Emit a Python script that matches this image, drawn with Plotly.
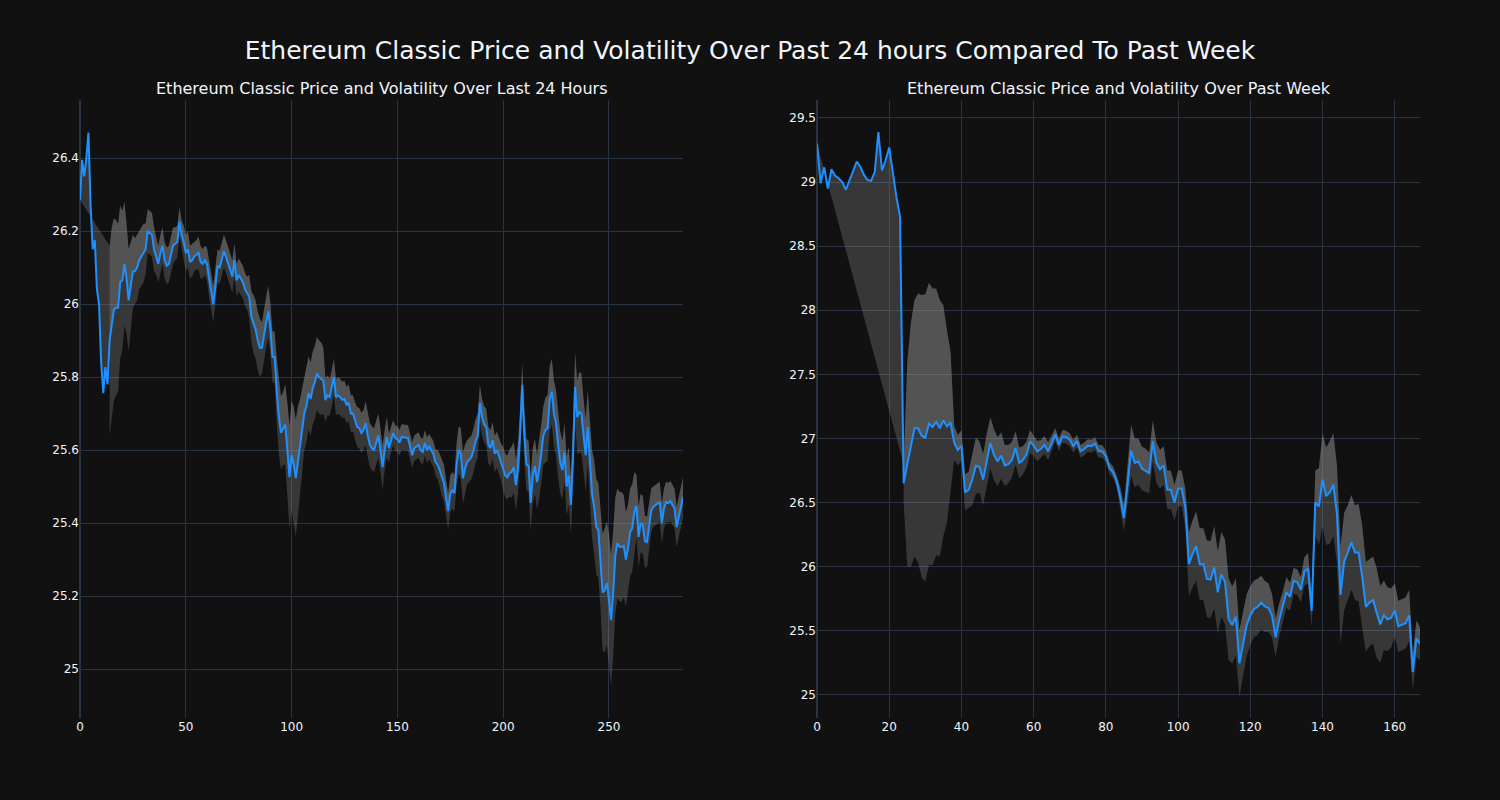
import plotly.graph_objects as go
from plotly.subplots import make_subplots

# ---- Last 24 hours (5-minute steps) ----
day_x = list(range(286))
day_price = [
    26.285, 26.395, 26.35, 26.40, 26.47, 26.27, 26.15, 26.175, 26.04, 26.00,
    25.84, 25.756, 25.827, 25.78, 25.90, 25.95, 25.985, 25.99, 25.99, 26.06,
    26.065, 26.11, 26.07, 26.01, 26.05, 26.09, 26.09, 26.10, 26.12, 26.13,
    26.14, 26.15, 26.20, 26.195, 26.19, 26.15, 26.13, 26.11, 26.14, 26.16,
    26.12, 26.105, 26.11, 26.14, 26.16, 26.165, 26.17, 26.225, 26.19, 26.17,
    26.14, 26.15, 26.115, 26.12, 26.13, 26.135, 26.14, 26.115, 26.11, 26.12,
    26.11, 26.07, 26.03, 26.00, 26.05, 26.105, 26.10, 26.12, 26.145, 26.13,
    26.11, 26.09, 26.075, 26.12, 26.065, 26.08, 26.07, 26.06, 26.04, 26.03,
    26.02, 25.965, 25.945, 25.93, 25.90, 25.88, 25.88, 25.92, 25.95, 25.98,
    25.93, 25.855, 25.855, 25.76, 25.69, 25.647, 25.66, 25.67, 25.60, 25.526,
    25.586, 25.56, 25.523, 25.57, 25.61, 25.66, 25.70, 25.72, 25.756, 25.74,
    25.77, 25.786, 25.81, 25.80, 25.795, 25.79, 25.737, 25.75, 25.745, 25.77,
    25.80, 25.745, 25.75, 25.745, 25.737, 25.74, 25.723, 25.73, 25.70, 25.70,
    25.68, 25.663, 25.66, 25.647, 25.655, 25.674, 25.64, 25.614, 25.605, 25.60,
    25.62, 25.64, 25.60, 25.553, 25.60, 25.636, 25.605, 25.63, 25.647, 25.633,
    25.63, 25.62, 25.636, 25.635, 25.633, 25.633, 25.61, 25.586, 25.605, 25.61,
    25.614, 25.60, 25.595, 25.62, 25.60, 25.61, 25.60, 25.59, 25.567, 25.56,
    25.545, 25.525, 25.51, 25.47, 25.433, 25.48, 25.49, 25.482, 25.56, 25.60,
    25.59, 25.523, 25.55, 25.567, 25.573, 25.58, 25.60, 25.625, 25.64, 25.729,
    25.69, 25.67, 25.663, 25.614, 25.605, 25.627, 25.59, 25.60, 25.585, 25.567,
    25.55, 25.53, 25.525, 25.537, 25.54, 25.553, 25.504, 25.55, 25.64, 25.778,
    25.64, 25.56, 25.556, 25.455, 25.53, 25.556, 25.512, 25.545, 25.59, 25.64,
    25.655, 25.66, 25.74, 25.76, 25.70, 25.674, 25.614, 25.565, 25.545, 25.595,
    25.50, 25.53, 25.45, 25.58, 25.773, 25.69, 25.704, 25.70, 25.64, 25.586,
    25.663, 25.573, 25.48, 25.444, 25.39, 25.38, 25.30, 25.21, 25.216, 25.236,
    25.19, 25.134, 25.208, 25.31, 25.345, 25.335, 25.335, 25.337, 25.30, 25.33,
    25.375, 25.386, 25.43, 25.447, 25.362, 25.40, 25.395, 25.35, 25.348, 25.39,
    25.435, 25.445, 25.449, 25.455, 25.458, 25.40, 25.44, 25.458, 25.455, 25.46,
    25.449, 25.44, 25.389, 25.42, 25.45, 25.471,
]
day_vol = [None] * 14 + [
    0.26, 0.26, 0.25, 0.24, 0.23, 0.21,
    0.19, 0.17, 0.15, 0.14, 0.12, 0.10, 0.09, 0.09, 0.08, 0.08,
    0.08, 0.07, 0.06, 0.06, 0.06, 0.06, 0.05, 0.05, 0.05, 0.05,
    0.05, 0.05, 0.05, 0.05, 0.05, 0.045, 0.045, 0.04, 0.04, 0.045,
    0.05, 0.05, 0.045, 0.045, 0.04, 0.04, 0.045, 0.045, 0.04, 0.04,
    0.045, 0.05, 0.05, 0.05, 0.05, 0.045, 0.045, 0.045, 0.045, 0.045,
    0.045, 0.045, 0.045, 0.045, 0.045, 0.045, 0.045, 0.045, 0.045, 0.045,
    0.06, 0.07, 0.08, 0.08, 0.08, 0.08, 0.07, 0.07, 0.07, 0.07,
    0.07, 0.07, 0.07, 0.09, 0.10, 0.10, 0.10, 0.11, 0.13, 0.14,
    0.15, 0.16, 0.16, 0.15, 0.13, 0.11, 0.10, 0.10, 0.10, 0.10,
    0.10, 0.10, 0.10, 0.10, 0.10, 0.09, 0.06, 0.055, 0.05, 0.05,
    0.05, 0.05, 0.05, 0.05, 0.05, 0.05, 0.05, 0.05, 0.05, 0.05,
    0.05, 0.055, 0.055, 0.055, 0.055, 0.06, 0.06, 0.06, 0.06, 0.06,
    0.06, 0.06, 0.06, 0.06, 0.055, 0.055, 0.04, 0.035, 0.035, 0.035,
    0.035, 0.035, 0.035, 0.035, 0.035, 0.035, 0.035, 0.035, 0.035, 0.035,
    0.035, 0.035, 0.035, 0.035, 0.035, 0.035, 0.035, 0.035, 0.035, 0.04,
    0.045, 0.05, 0.05, 0.05, 0.05, 0.05, 0.05, 0.05, 0.06, 0.065,
    0.07, 0.07, 0.065, 0.06, 0.06, 0.06, 0.06, 0.06, 0.06, 0.05,
    0.05, 0.05, 0.05, 0.05, 0.05, 0.05, 0.05, 0.05, 0.05, 0.05,
    0.06, 0.06, 0.06, 0.065, 0.07, 0.07, 0.07, 0.07, 0.07, 0.06,
    0.07, 0.07, 0.07, 0.075, 0.075, 0.075, 0.075, 0.08, 0.08, 0.08,
    0.09, 0.09, 0.09, 0.09, 0.09, 0.09, 0.09, 0.085, 0.08, 0.08,
    0.08, 0.08, 0.08, 0.09, 0.095, 0.10, 0.11, 0.11, 0.10, 0.10,
    0.10, 0.10, 0.12, 0.13, 0.13, 0.13, 0.13, 0.16, 0.17, 0.17,
    0.18, 0.18, 0.17, 0.16, 0.15, 0.15, 0.15, 0.14, 0.13, 0.12,
    0.12, 0.12, 0.11, 0.085, 0.085, 0.08, 0.08, 0.07, 0.07, 0.065,
    0.06, 0.055, 0.055, 0.055, 0.055, 0.055, 0.055, 0.055, 0.055, 0.055,
    0.055, 0.055, 0.055, 0.055, 0.055, 0.055,
]

# ---- Past week (hourly steps) ----
week_x = list(range(168))
week_price = [
    29.30, 28.99, 29.115, 28.95, 29.10, 29.05, 29.03, 29.00, 28.94, 29.017,
    29.08, 29.16, 29.12, 29.056, 29.017, 29.01, 29.08, 29.39, 29.09, 29.17,
    29.27, 29.07, 28.88, 28.73, 26.65, 26.80, 26.95, 27.08, 27.08, 27.02,
    27.005, 27.115, 27.09, 27.13, 27.08, 27.14, 27.094, 27.125, 26.965, 26.91,
    26.944, 26.58, 26.60, 26.68, 26.787, 26.777, 26.68, 26.835, 26.965, 26.874,
    26.82, 26.866, 26.79, 26.80, 26.835, 26.926, 26.81, 26.83, 26.874, 26.977,
    26.944, 26.90, 26.918, 26.95, 26.90, 26.965, 27.03, 26.95, 27.016, 27.01,
    26.99, 26.94, 26.98, 26.90, 26.918, 26.944, 26.94, 26.96, 26.90, 26.90,
    26.86, 26.77, 26.736, 26.665, 26.54, 26.38, 26.64, 26.905, 26.81, 26.82,
    26.766, 26.75, 26.73, 26.98, 26.81, 26.76, 26.79, 26.60, 26.60, 26.50,
    26.61, 26.61, 26.46, 26.02, 26.10, 26.16, 26.02, 26.02, 25.905, 25.90,
    25.995, 25.80, 25.94, 25.88, 25.59, 25.545, 25.61, 25.246, 25.40, 25.545,
    25.62, 25.67, 25.686, 25.72, 25.69, 25.68, 25.62, 25.45, 25.585, 25.686,
    25.80, 25.765, 25.89, 25.88, 25.82, 25.965, 25.985, 25.655, 26.50, 26.47,
    26.68, 26.55, 26.58, 26.64, 26.41, 25.78, 26.04, 26.11, 26.19, 26.11,
    26.11, 25.92, 25.686, 25.72, 25.74, 25.64, 25.55, 25.62, 25.59, 25.60,
    25.66, 25.535, 25.545, 25.56, 25.62, 25.18, 25.44, 25.40,
]
week_vol = [None] * 24 + [
    0.15, 0.80, 0.95, 1.00, 1.05, 1.10,
    1.12, 1.10, 1.08, 1.04, 1.00, 0.90, 0.75, 0.55, 0.13, 0.12,
    0.12, 0.14, 0.14, 0.20, 0.22, 0.20, 0.20, 0.20, 0.20, 0.20,
    0.19, 0.18, 0.16, 0.15, 0.14, 0.13, 0.12, 0.11, 0.10, 0.09,
    0.08, 0.08, 0.07, 0.07, 0.07, 0.06, 0.05, 0.05, 0.05, 0.05,
    0.05, 0.05, 0.05, 0.05, 0.05, 0.05, 0.05, 0.05, 0.05, 0.05,
    0.045, 0.045, 0.045, 0.045, 0.08, 0.10, 0.15, 0.20, 0.19, 0.18,
    0.17, 0.17, 0.16, 0.16, 0.16, 0.15, 0.15, 0.15, 0.15, 0.14,
    0.14, 0.14, 0.15, 0.25, 0.26, 0.27, 0.28, 0.28, 0.30, 0.30,
    0.32, 0.32, 0.33, 0.33, 0.32, 0.30, 0.30, 0.26, 0.25, 0.24,
    0.23, 0.22, 0.22, 0.21, 0.20, 0.19, 0.17, 0.15, 0.13, 0.12,
    0.12, 0.11, 0.10, 0.10, 0.10, 0.11, 0.12, 0.13, 0.25, 0.30,
    0.36, 0.38, 0.40, 0.40, 0.38, 0.38, 0.38, 0.37, 0.37, 0.37,
    0.38, 0.40, 0.35, 0.34, 0.34, 0.35, 0.30, 0.27, 0.25, 0.23,
    0.21, 0.20, 0.20, 0.20, 0.20, 0.14, 0.14, 0.13,
]

LINE = "#1E90FF"
BAND = "rgba(160,160,160,0.27)"


def bounds(price, vol):
    up = [None if v is None else p + v for p, v in zip(price, vol)]
    lo = [None if v is None else p - v for p, v in zip(price, vol)]
    return up, lo


fig = make_subplots(
    rows=1, cols=2, horizontal_spacing=0.1,
    subplot_titles=("Ethereum Classic Price and Volatility Over Last 24 Hours",
                    "Ethereum Classic Price and Volatility Over Past Week"),
)

for col, xs, price, vol in ((1, day_x, day_price, day_vol), (2, week_x, week_price, week_vol)):
    up, lo = bounds(price, vol)
    fig.add_trace(go.Scatter(x=xs, y=price, mode="lines", line=dict(width=0, color=LINE),
                             hoverinfo="skip"), row=1, col=col)
    fig.add_trace(go.Scatter(x=xs, y=up, mode="lines", line=dict(width=0, color="gray"),
                             fill="tonexty", fillcolor=BAND), row=1, col=col)
    fig.add_trace(go.Scatter(x=xs, y=lo, mode="lines", line=dict(width=0, color="gray"),
                             fill="tonexty", fillcolor=BAND), row=1, col=col)
    fig.add_trace(go.Scatter(x=xs, y=price, mode="lines", line=dict(width=2, color=LINE)),
                  row=1, col=col)

fig.update_layout(
    template="plotly_dark",
    width=1500, height=800,
    margin=dict(l=80, r=80, t=100, b=82),
    showlegend=False,
    font=dict(family="DejaVu Sans"),
    title=dict(text="Ethereum Classic Price and Volatility Over Past 24 hours Compared To Past Week",
               x=0.5, xanchor="center", y=0.9375, yanchor="middle", font=dict(size=25)),
)
fig.update_annotations(font=dict(family="DejaVu Sans", size=16))
fig.update_xaxes(range=[0, 285], row=1, col=1)
fig.update_xaxes(range=[0, 167], row=1, col=2)
fig.update_yaxes(range=[24.866, 26.559], row=1, col=1)
fig.update_yaxes(range=[24.82, 29.64], row=1, col=2)

fig.write_html("out.html")
